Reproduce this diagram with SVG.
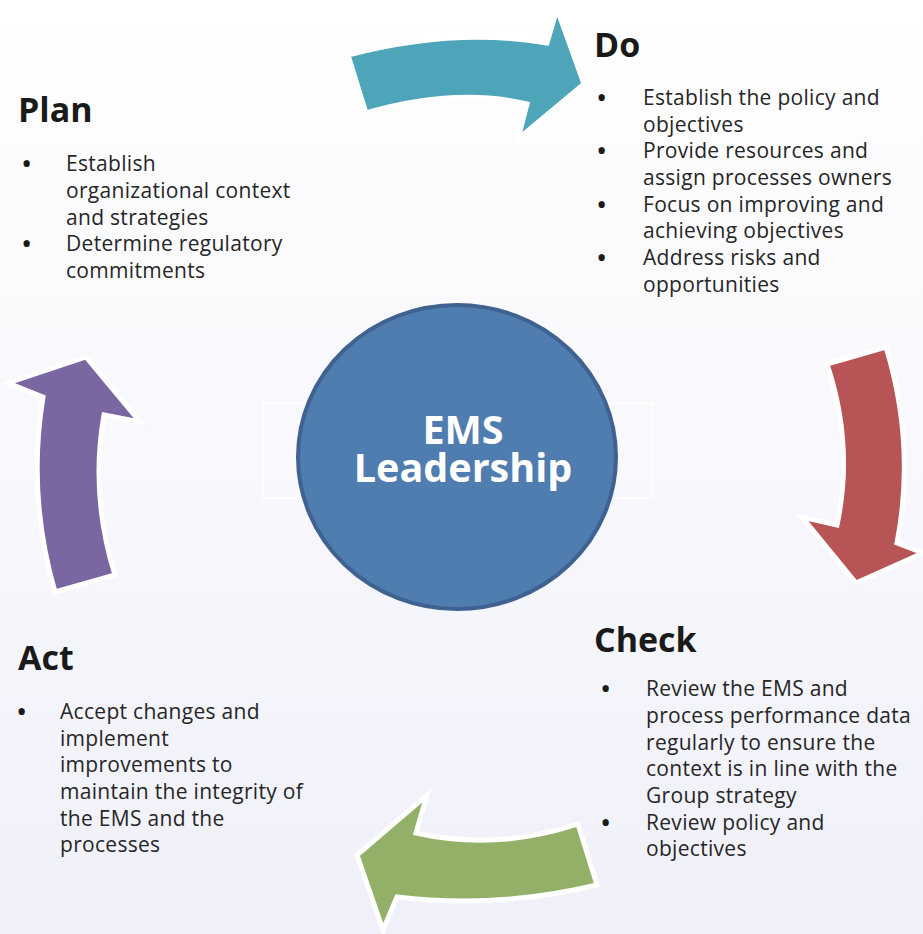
<svg xmlns="http://www.w3.org/2000/svg" width="923" height="934" viewBox="0 0 923 934">
<defs>
<linearGradient id="bg" x1="0" y1="0" x2="0" y2="1">
<stop offset="0" stop-color="#ffffff"/>
<stop offset="1" stop-color="#f0f0fa"/>
</linearGradient>
<style>
.arrow{stroke:#ffffff;stroke-width:5;stroke-linejoin:miter}
.h{font-family:"Open Sans","Noto Sans",sans-serif;font-weight:bold;font-size:34px;fill:#1a1a1a}
.t{font-family:"Open Sans","Noto Sans",sans-serif;font-size:21px;letter-spacing:0.3px;fill:#262626}
.b{font-family:"Open Sans","Noto Sans",sans-serif;font-size:30px;fill:#1a1a1a}
.c{font-family:"Open Sans","Noto Sans",sans-serif;font-weight:bold;font-size:39.5px;fill:#ffffff;text-anchor:middle}
</style>
</defs>
<rect width="923" height="934" fill="url(#bg)"/>
<g id="connectors">
<path class="arrow" fill="#4ea5b9" d="M348,55 Q455,27 547,43 L557,9 L584,84 L518,139 L527,104 Q455,87 366,113 Z"/>
<path class="arrow" fill="#b65456" d="M827,364 L886,347 Q916,445 897,543 L923,553 L856,583 L802,517 L837,525 Q854,445 827,364 Z"/>
<path class="arrow" fill="#93b068" d="M578,824 Q497,851 416,833 L427,795 L357,855 L383,930 L397,897 Q497,909 597,885 Z"/>
<path class="arrow" fill="#7a66a0" d="M55,592 Q27,495 43,397 L8,383 L86,357 L140,422 L104,415 Q90,495 115,575 Z"/>
</g>
<g id="center">
<rect x="263" y="403" width="389" height="95" fill="none" stroke="#ffffff" stroke-width="1.5"/>
<ellipse cx="457" cy="457" rx="159" ry="152" fill="#4f7db0" stroke="#3f6290" stroke-width="4"/>
<text class="c" x="463" y="444"><tspan x="463" y="444">EMS</tspan><tspan x="463" y="482">Leadership</tspan></text>
</g>
<g id="plan">
<text class="h" x="18" y="122">Plan</text>
<text class="b" x="21" y="174">•</text>
<text class="t" x="66" y="171">Establish</text>
<text class="t" x="66" y="198">organizational context</text>
<text class="t" x="66" y="225">and strategies</text>
<text class="b" x="21" y="254">•</text>
<text class="t" x="66" y="251">Determine regulatory</text>
<text class="t" x="66" y="278">commitments</text>
</g>
<g id="do">
<text class="h" x="594" y="57">Do</text>
<text class="b" x="596" y="108">•</text>
<text class="t" x="643" y="105">Establish the policy and</text>
<text class="t" x="643" y="132">objectives</text>
<text class="b" x="596" y="161">•</text>
<text class="t" x="643" y="158">Provide resources and</text>
<text class="t" x="643" y="185">assign processes owners</text>
<text class="b" x="596" y="215">•</text>
<text class="t" x="643" y="212">Focus on improving and</text>
<text class="t" x="643" y="238">achieving objectives</text>
<text class="b" x="596" y="268">•</text>
<text class="t" x="643" y="265">Address risks and</text>
<text class="t" x="643" y="292">opportunities</text>
</g>
<g id="check">
<text class="h" x="594" y="652">Check</text>
<text class="b" x="600" y="699">•</text>
<text class="t" x="646" y="696">Review the EMS and</text>
<text class="t" x="646" y="723">process performance data</text>
<text class="t" x="646" y="750">regularly to ensure the</text>
<text class="t" x="646" y="776">context is in line with the</text>
<text class="t" x="646" y="803">Group strategy</text>
<text class="b" x="600" y="833">•</text>
<text class="t" x="646" y="830">Review policy and</text>
<text class="t" x="646" y="856">objectives</text>
</g>
<g id="act">
<text class="h" x="18" y="670">Act</text>
<text class="b" x="16" y="722">•</text>
<text class="t" x="60" y="719">Accept changes and</text>
<text class="t" x="60" y="746">implement</text>
<text class="t" x="60" y="772">improvements to</text>
<text class="t" x="60" y="799">maintain the integrity of</text>
<text class="t" x="60" y="826">the EMS and the</text>
<text class="t" x="60" y="852">processes</text>
</g>
</svg>
